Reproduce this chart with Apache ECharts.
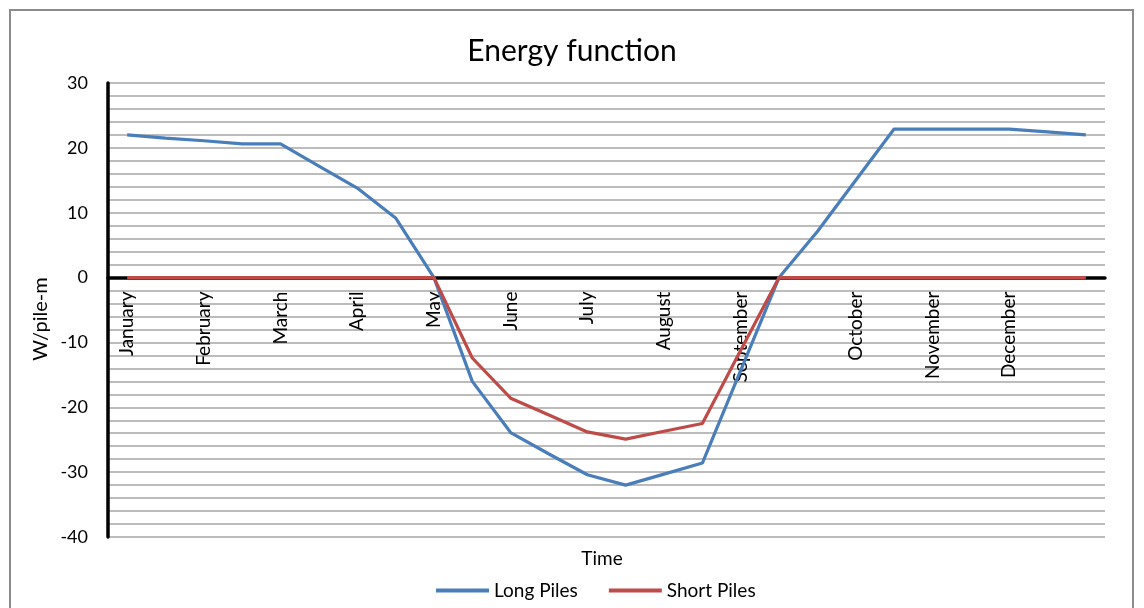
<!DOCTYPE html>
<html>
<head>
<meta charset="utf-8">
<script src="https://cdn.jsdelivr.net/npm/echarts@6/dist/echarts.min.js"></script>
<style>
  html, body { margin: 0; padding: 0; background: #fff; }
  #frame { position: absolute; left: 9px; top: 9px; width: 1125px; height: 620px; border: 2px solid #8c8c8c; box-sizing: border-box; }
  #chart { position: absolute; left: 0; top: 0; width: 1144px; height: 608px; }
</style>
</head>
<body>
<div id="frame"></div>
<div id="chart"></div>
<script>
// Half-month sampling points; only some carry a month label
const categories = [
  'January', '', 'February', '', 'March', '', 'April', '', 'May', '', 'June', '', 'July', '',
  'August', '', 'September', '', '', 'October', '', 'November', '', 'December', '', ''
];

// Energy per metre of pile (W/pile-m)
const longPiles = [
  22.0, 21.5, 21.1, 20.6, 20.6, 17.2, 13.8, 9.2, 0, -16.0, -23.9, -27.2, -30.4, -32.0,
  -30.3, -28.6, -14.3, 0, 7.1, 15.0, 22.9, 22.9, 22.9, 22.9, 22.45, 22.0
];
const shortPiles = [
  0, 0, 0, 0, 0, 0, 0, 0, 0, -12.4, -18.6, -21.2, -23.8, -24.9,
  -23.7, -22.5, -11.2, 0, 0, 0, 0, 0, 0, 0, 0, 0
];

const yMin = -40, yMax = 30, yStep = 10;

const FONT = 'Lato, "Open Sans", sans-serif';
const GRID = { left: 108, right: 39, top: 83, bottom: 71 };
const CHART_H = 608;

// The category axis sits on the zero line, labels included:
// shift it up from the grid bottom by the height of the value range below zero.
const plotH = CHART_H - GRID.top - GRID.bottom;
const zeroOffset = -(0 - yMin) / (yMax - yMin) * plotH;

const chart = echarts.init(document.getElementById('chart'), null, { renderer: 'canvas' });

chart.setOption({
  animation: false,
  backgroundColor: 'transparent',
  textStyle: { fontFamily: FONT },
  title: {
    text: 'Energy function',
    left: 'center',
    top: 31,
    textStyle: { fontFamily: FONT, fontSize: 30, fontWeight: 'normal', color: '#000' }
  },
  legend: {
    left: 436,
    top: 581,
    padding: 0,
    icon: 'rect',
    itemWidth: 53,
    itemHeight: 4,
    itemGap: 31,
    textStyle: { fontFamily: FONT, fontSize: 19, color: '#000' },
    data: ['Long Piles', 'Short Piles']
  },
  graphic: [
    {
      type: 'text',
      x: 602,
      y: 559,
      style: { text: 'Time', font: '19px ' + FONT, fill: '#000', textAlign: 'center', textVerticalAlign: 'middle' }
    },
    {
      type: 'text',
      x: 41,
      y: 319,
      rotation: Math.PI / 2,
      style: { text: 'W/pile-m', font: '20px ' + FONT, fill: '#000', textAlign: 'center', textVerticalAlign: 'middle' }
    }
  ],
  grid: Object.assign({ containLabel: false, outerBoundsMode: 'none' }, GRID),
  xAxis: {
    type: 'category',
    data: categories,
    boundaryGap: true,
    position: 'bottom',
    offset: zeroOffset,
    axisLine: { onZero: false, lineStyle: { color: '#000', width: 3.5 } },
    axisTick: { show: false },
    axisLabel: {
      interval: 0,
      rotate: 90,
      margin: 14,
      fontFamily: FONT,
      fontSize: 19,
      color: '#000'
    },
    splitLine: { show: false }
  },
  yAxis: {
    type: 'value',
    min: yMin,
    max: yMax,
    interval: yStep,
    axisLine: { show: true, lineStyle: { color: '#000', width: 3.5 } },
    axisTick: { show: false },
    axisLabel: { margin: 20, fontFamily: FONT, fontSize: 18, color: '#000' },
    splitLine: { show: true, lineStyle: { color: '#bcbcbc', width: 2 } },
    minorTick: { show: false, splitNumber: 5 },
    minorSplitLine: { show: true, lineStyle: { color: '#bcbcbc', width: 2 } }
  },
  series: [
    {
      name: 'Long Piles',
      type: 'line',
      data: longPiles,
      showSymbol: false,
      symbol: 'none',
      z: 3,
      lineStyle: { color: '#4a7ebb', width: 3.2 },
      itemStyle: { color: '#4a7ebb' }
    },
    {
      name: 'Short Piles',
      type: 'line',
      data: shortPiles,
      showSymbol: false,
      symbol: 'none',
      z: 4,
      lineStyle: { color: '#be4b48', width: 3.2 },
      itemStyle: { color: '#be4b48' }
    }
  ]
});
</script>
</body>
</html>
